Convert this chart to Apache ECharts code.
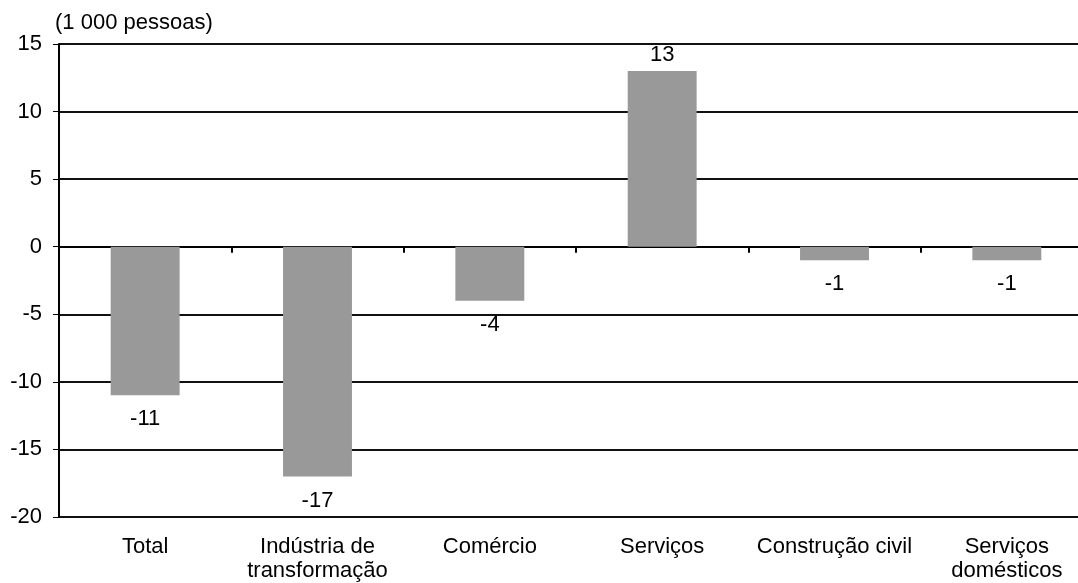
<!DOCTYPE html>
<html><head><meta charset="utf-8">
<script src="https://cdn.jsdelivr.net/npm/echarts@6/dist/echarts.min.js"></script>
<style>html,body{margin:0;padding:0;background:#fff;overflow:hidden}#c{width:1078px;height:583px}</style>
</head><body><div id="c"></div>
<script>
const categories = ['Total', 'Indústria de\ntransformação', 'Comércio', 'Serviços', 'Construção civil', 'Serviços\ndomésticos'];
const values = [-11, -17, -4, 13, -1, -1];
const unitLabel = '(1 000 pessoas)';
const font = '"Liberation Sans", Arial, sans-serif';
const chart = echarts.init(document.getElementById('c'));
chart.setOption({
  animation: false,
  grid: { left: 59, right: -15, top: 44, bottom: 66, outerBoundsMode: 'none', containLabel: false },
  graphic: [{ type: 'text', left: 55, top: 12,
    style: { text: unitLabel, fill: '#000', font: '22px "Liberation Sans", Arial, sans-serif' } }],
  xAxis: [
    { type: 'category', data: categories, position: 'bottom',
      axisLine: { show: false, onZero: false }, axisTick: { show: false },
      axisLabel: { color: '#000', fontFamily: font, fontSize: 22, lineHeight: 24, margin: 18, interval: 0 } },
    { type: 'category', data: categories, position: 'bottom',
      axisLine: { show: true, onZero: true, lineStyle: { color: '#000', width: 2 } },
      axisTick: { show: true, length: 6, lineStyle: { color: '#000', width: 2 } },
      axisLabel: { show: false } }
  ],
  yAxis: {
    type: 'value', min: -20, max: 15, interval: 5,
    axisLine: { show: true, lineStyle: { color: '#000', width: 2 } },
    axisTick: { show: true, length: 6, lineStyle: { color: '#000', width: 1 } },
    axisLabel: { color: '#000', fontFamily: font, fontSize: 22, margin: 17 },
    splitLine: { show: true, lineStyle: { color: '#111', width: 2 } }
  },
  series: [{
    type: 'bar', xAxisIndex: 1, barWidth: '40%',
    data: values.map(v => ({ value: v, label: { distance: v >= 0 ? 5 : 13 } })),
    itemStyle: { color: '#999999' },
    label: { show: true, position: 'outside', color: '#000', fontFamily: font, fontSize: 22,
      formatter: p => String(p.value) }
  }]
});
</script></body></html>
